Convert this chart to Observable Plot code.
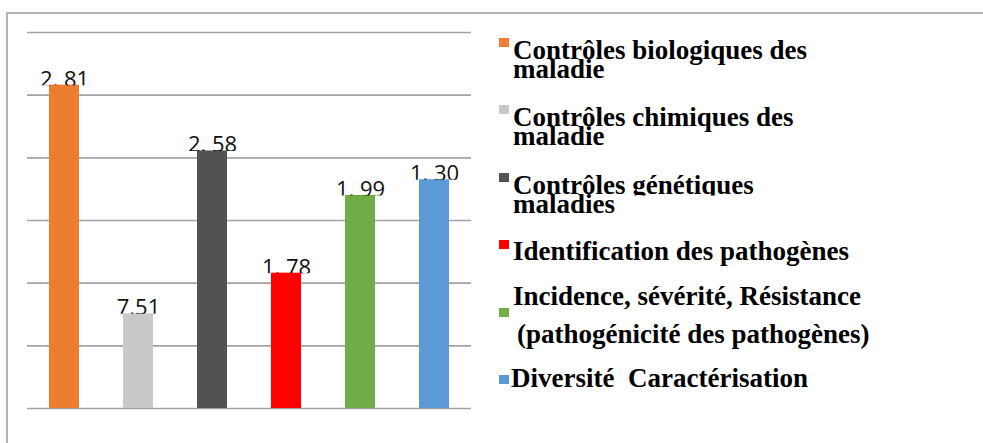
<!DOCTYPE html>
<html><head><meta charset="utf-8">
<script src="https://cdn.jsdelivr.net/npm/d3@7"></script>
<script src="https://cdn.jsdelivr.net/npm/@observablehq/plot@0.6"></script>
<style>
body{margin:0;background:#fff;}
#wrap{position:relative;width:983px;height:443px;overflow:hidden;}
#frame{position:absolute;left:6px;top:12px;width:990px;height:440px;border-left:2px solid #b3b3b3;border-top:2px solid #b3b3b3;}
#chart{position:absolute;left:0;top:0;}
#legend{position:absolute;left:0;top:0;}
</style></head><body>
<div id="wrap"><div id="frame"></div><div id="chart"></div><svg id="legend" width="983" height="443"></svg></div>
<script>
const categories = ["Contrôles biologiques des maladie", "Contrôles chimiques des maladie", "Contrôles génétiques maladies", "Identification des pathogènes", "Incidence, sévérité, Résistance (pathogénicité des pathogènes)", "Diversité  Caractérisation"];
const values = [5.16, 1.51, 4.11, 2.16, 3.40, 3.65];
const valueLabels = ["2, 81", "7,51", "2, 58", "1, 78", "1, 99", "1, 30"];
const colors = ["#ED7D31", "#C9C9C9", "#525252", "#FF0000", "#70AD47", "#5B9BD5"];
const gridTicks = [0, 1, 2, 3, 4, 5, 6];
const legendLines = [
  ["Contrôles biologiques des", "maladie"],
  ["Contrôles chimiques des", "maladie"],
  ["Contrôles génétiques", "maladies"],
  ["Identification des pathogènes"],
  ["Incidence, sévérité, Résistance", "(pathogénicité des pathogènes)"],
  ["Diversité  Caractérisation"]
];

const data = categories.map((c, i) => ({cat: c, value: values[i], label: valueLabels[i], color: colors[i]}));

const chart = Plot.plot({
  width: 490,
  height: 443,
  marginLeft: 27,
  marginRight: 19,
  marginTop: 32,
  marginBottom: 35,
  x: {type: "band", domain: categories, paddingInner: 0.5946, paddingOuter: 0.2973, axis: null},
  y: {domain: [0, 6], axis: null},
  color: {type: "identity"},
  marks: [
    Plot.ruleY(gridTicks, {stroke: "#a3a3a3", strokeWidth: 1.6}),
    Plot.barY(data, {x: "cat", y: "value", fill: "color"}),
    Plot.text(data, {
      x: "cat", y: "value", text: "label",
      fontSize: 22, fontFamily: "Open Sans", fill: "#111",
      lineAnchor: "bottom", dy: 1.5,
      render(index, scales, vals, dimensions, context, next) {
        const g = next(index, scales, vals, dimensions, context);
        const defs = d3.create("svg:defs");
        defs.append("clipPath").attr("id", "lblclip")
          .append("rect").attr("x", -200).attr("y", -200).attr("width", 400).attr("height", 198.5);
        g.insertBefore(defs.node(), g.firstChild);
        d3.select(g).selectAll("text").attr("y", null).attr("dy", null).attr("clip-path", "url(#lblclip)");
        return g;
      }
    })
  ]
});
chart.style.overflow = "visible";
document.getElementById("chart").appendChild(chart);

// Legend layout (positions only)
const legendLayout = [
  {sq: 38, lines: [[513, 58.5], [513, 77.5]]},
  {sq: 105, lines: [[513, 125.5], [513, 145]]},
  {sq: 173, lines: [[513, 194], [513, 212.5]], clip: 195.5},
  {sq: 240, lines: [[513, 259.5]]},
  {sq: 308, lines: [[513, 304.5], [517, 342.5]]},
  {sq: 375, lines: [[511, 387]]}
];
const leg = d3.select("#legend");
const defs = leg.append("defs");
legendLines.forEach((lines, i) => {
  const L = legendLayout[i];
  leg.append("rect").attr("x", 499).attr("y", L.sq).attr("width", 10).attr("height", 9).attr("fill", colors[i]);
  lines.forEach((t, j) => {
    const [x, y] = L.lines[j];
    const txt = leg.append("text").attr("x", x).attr("y", y)
      .attr("font-family", "'Liberation Serif', 'Times New Roman', serif")
      .attr("font-weight", "bold").attr("font-size", 27).attr("fill", "#000")
      .style("white-space", "pre").text(t);
    if (L.clip && j === 0) {
      const id = "legclip" + i;
      defs.append("clipPath").attr("id", id).append("rect")
        .attr("x", 0).attr("y", 0).attr("width", 983).attr("height", L.clip);
      txt.attr("clip-path", `url(#${id})`);
    }
  });
});
</script>
</body></html>
